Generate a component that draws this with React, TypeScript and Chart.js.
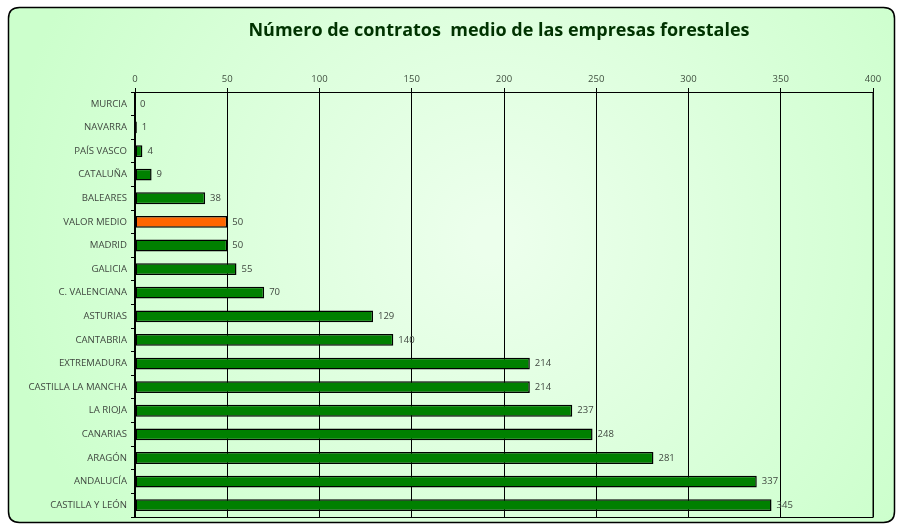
import React, { useEffect, useRef } from "react";
import { Chart, registerables } from "chart.js";

Chart.register(...registerables);

const categories = [
  "MURCIA", "NAVARRA", "PAÍS VASCO", "CATALUÑA", "BALEARES", "VALOR MEDIO",
  "MADRID", "GALICIA", "C. VALENCIANA", "ASTURIAS", "CANTABRIA", "EXTREMADURA",
  "CASTILLA LA MANCHA", "LA RIOJA", "CANARIAS", "ARAGÓN", "ANDALUCÍA", "CASTILLA Y LEÓN",
];
const values = [0, 1, 4, 9, 38, 50, 50, 55, 70, 129, 140, 214, 214, 237, 248, 281, 337, 345];
const highlightCategory = "VALOR MEDIO";
const titleText = "Número de contratos  medio de las empresas forestales";
const xMin = 0;
const xMax = 400;
const xStep = 50;

const FONT = "'Open Sans', 'DejaVu Sans', sans-serif";

const bgPlugin = {
  id: "bgPlugin",
  beforeDraw(chart: any) {
    const ctx = chart.ctx;
    const w = chart.width;
    const h = chart.height;
    ctx.save();
    ctx.fillStyle = "#ffffff";
    ctx.fillRect(0, 0, w, h);
    const x0 = 8.5, y0 = 7.5, x1 = 894.5, y1 = 522.5, r = 11;
    const g = ctx.createRadialGradient(w * 0.55, h * 0.45, 20, w * 0.55, h * 0.45, w * 0.55);
    g.addColorStop(0, "#ecffec");
    g.addColorStop(1, "#ccffcc");
    ctx.beginPath();
    ctx.moveTo(x0 + r, y0);
    ctx.lineTo(x1 - r, y0);
    ctx.quadraticCurveTo(x1, y0, x1, y0 + r);
    ctx.lineTo(x1, y1 - r);
    ctx.quadraticCurveTo(x1, y1, x1 - r, y1);
    ctx.lineTo(x0 + r, y1);
    ctx.quadraticCurveTo(x0, y1, x0, y1 - r);
    ctx.lineTo(x0, y0 + r);
    ctx.quadraticCurveTo(x0, y0, x0 + r, y0);
    ctx.closePath();
    ctx.fillStyle = g;
    ctx.fill();
    ctx.lineWidth = 1.5;
    ctx.strokeStyle = "#000000";
    ctx.stroke();
    // title
    ctx.fillStyle = "#003300";
    ctx.font = `bold 18px ${FONT}`;
    ctx.textAlign = "center";
    ctx.textBaseline = "middle";
    ctx.fillText(titleText, 499, 31);
    ctx.restore();
  },
  afterDatasetsDraw(chart: any) {
    const ctx = chart.ctx;
    const meta = chart.getDatasetMeta(0);
    ctx.save();
    ctx.font = `9.5px ${FONT}`;
    ctx.fillStyle = "#404840";
    ctx.textAlign = "left";
    ctx.textBaseline = "middle";
    meta.data.forEach((bar: any, i: number) => {
      ctx.fillText(String(values[i]), bar.x + 5, bar.y);
    });
    // plot border
    const a = chart.chartArea;
    ctx.strokeStyle = "#000";
    ctx.lineWidth = 1;
    ctx.strokeRect(a.left, a.top + 0.5, a.right - a.left, a.bottom - a.top);
    ctx.lineWidth = 2;
    ctx.beginPath();
    ctx.moveTo(a.left, a.top);
    ctx.lineTo(a.left, a.bottom + 1);
    ctx.stroke();
    ctx.restore();
  },
};

export default function App() {
  const ref = useRef<HTMLCanvasElement>(null);
  useEffect(() => {
    if (!ref.current) return;
    const chart = new Chart(ref.current, {
      type: "bar",
      data: {
        labels: categories,
        datasets: [
          {
            data: values,
            backgroundColor: categories.map((c) => (c === highlightCategory ? "#ff6600" : "#008000")),
            borderColor: "#000000",
            borderWidth: 1.5,
            borderSkipped: false,
            categoryPercentage: 1,
            barPercentage: 0.5,
          },
        ],
      },
      options: {
        indexAxis: "y",
        animation: false,
        responsive: true,
        maintainAspectRatio: false,
        layout: { padding: { left: 0, top: 0, right: 24, bottom: 12 } },
        plugins: { legend: { display: false }, title: { display: false }, tooltip: { enabled: false } },
        scales: {
          x: {
            position: "top",
            min: xMin,
            max: xMax,
            ticks: { stepSize: xStep, color: "#405040", font: { family: FONT, size: 9.5 }, padding: 3 },
            grid: { color: "#000000", lineWidth: 1, tickLength: 4, drawTicks: true },
            border: { display: false },
            afterFit(scale: any) {
              scale.height = 92;
            },
          },
          y: {
            ticks: { color: "#404840", font: { family: FONT, size: 9.6 }, padding: 4 },
            grid: { offset: true, drawOnChartArea: false, color: "#000000", tickLength: 4 },
            border: { display: false },
            afterFit(scale: any) {
              scale.width = 135;
            },
          },
        },
      },
      plugins: [bgPlugin],
    });
    return () => chart.destroy();
  }, []);
  return (
    <div style={{ position: "fixed", left: 0, top: 0, width: 897, height: 529 }}>
      <canvas ref={ref} />
    </div>
  );
}
